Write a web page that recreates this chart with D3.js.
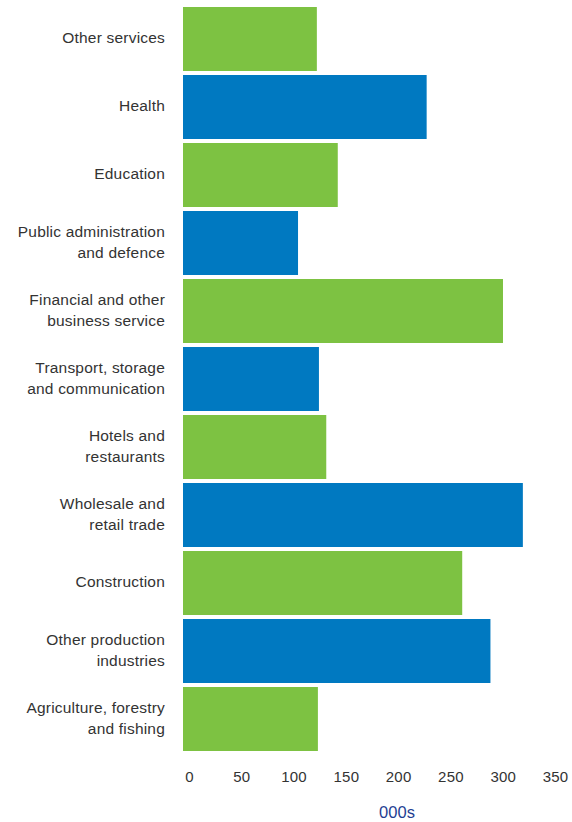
<!DOCTYPE html>
<html><head><meta charset="utf-8">
<script src="https://cdn.jsdelivr.net/npm/d3@7"></script>
<style>body{margin:0;background:#fff}svg{display:block}</style>
</head><body>
<script>
const categories = [
  ["Other services"],
  ["Health"],
  ["Education"],
  ["Public administration","and defence"],
  ["Financial and other","business service"],
  ["Transport, storage","and communication"],
  ["Hotels and","restaurants"],
  ["Wholesale and","retail trade"],
  ["Construction"],
  ["Other production","industries"],
  ["Agriculture, forestry","and fishing"]
];
const values = [128, 233, 148, 110, 306, 130, 137, 325, 267, 294, 129];
const colors = ["#7DC242","#0079C1"];
const ticks = [0,50,100,150,200,250,300,350];
const axisTitle = "000s";

const W=572,H=822;
const svg=d3.select("body").append("svg").attr("width",W).attr("height",H);
const font="'Liberation Sans', Arial, Helvetica, sans-serif";
const x=d3.scaleLinear().domain([0,350]).range([183,549]);
const y=d3.scaleBand().domain(d3.range(categories.length)).range([7,751]).paddingInner(4/68).paddingOuter(0);

svg.selectAll("rect.bar").data(values).join("rect")
  .attr("class","bar")
  .attr("x",x(0)).attr("y",(d,i)=>y(i))
  .attr("width",d=>x(d)-x(0)).attr("height",y.bandwidth())
  .attr("fill",(d,i)=>colors[i%2]);

const lab=svg.selectAll("text.cat").data(categories).join("text")
  .attr("class","cat")
  .attr("text-anchor","end")
  .attr("font-family",font).attr("font-size",15.5).attr("letter-spacing",0.2).attr("fill","#333");
lab.each(function(lines,i){
  const t=d3.select(this);
  const cy=y(i)+y.bandwidth()/2;
  const lh=21;
  const y0=cy-(lines.length-1)*lh/2+4;
  lines.forEach((l,j)=>t.append("tspan").attr("x",165).attr("y",y0+j*lh).text(l));
});

const axis=d3.axisBottom(x).tickValues(ticks).tickSize(0).tickPadding(0);
const g=svg.append("g").attr("transform","translate(6,771)").call(axis);
g.select(".domain").remove();
g.selectAll("text").attr("font-family",font).attr("font-size",15).attr("letter-spacing",0.2).attr("fill","#333");

svg.append("text").attr("x",397).attr("y",818).attr("text-anchor","middle")
  .attr("font-family",font).attr("font-size",16.5).attr("fill","#1F3F93").text(axisTitle);
</script>
</body></html>
